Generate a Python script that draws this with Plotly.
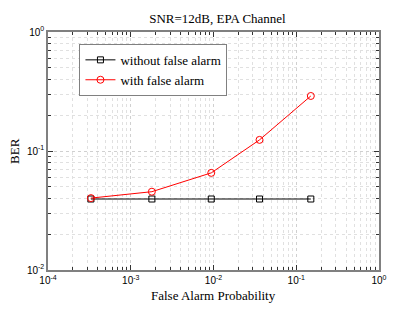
import plotly.graph_objects as go

pfa = [3.3e-4, 1.8e-3, 9.4e-3, 0.036, 0.15]
ber_without = [0.0395, 0.0395, 0.0395, 0.0395, 0.0395]
ber_with = [0.0402, 0.0455, 0.0655, 0.124, 0.29]

x_major = [1e-4, 1e-3, 1e-2, 1e-1, 1e0]
x_major_text = ["10<sup>-4</sup>", "10<sup>-3</sup>", "10<sup>-2</sup>", "10<sup>-1</sup>", "10<sup>0</sup>"]
y_major = [1e-2, 1e-1, 1e0]
y_major_text = ["10<sup>-2</sup>", "10<sup>-1</sup>", "10<sup>0</sup>"]

x_minor = [m * 10.0 ** e for e in range(-4, 0) for m in range(2, 10)]
y_minor = [m * 10.0 ** e for e in range(-2, 0) for m in range(2, 10)]

SERIF = "Liberation Serif"

fig = go.Figure()
fig.add_trace(go.Scatter(
    x=pfa, y=ber_without, mode="lines+markers", name="without false alarm",
    line=dict(color="black", width=1),
    marker=dict(symbol="square-open", size=6, color="black", line=dict(width=1)),
))
fig.add_trace(go.Scatter(
    x=pfa, y=ber_with, mode="lines+markers", name="with false alarm",
    line=dict(color="red", width=1),
    marker=dict(symbol="circle-open", size=7, color="red", line=dict(width=1)),
))

axis_common = dict(
    showline=True, linecolor="#808080", linewidth=1.5, mirror="ticks",
    ticks="inside", ticklen=5, tickcolor="#333333", tickwidth=1,
    showgrid=True, gridcolor="#d0d0d0", griddash="dot", gridwidth=1,
    zeroline=False, tickfont=dict(family="Liberation Sans", size=10, color="black"),
)

fig.update_xaxes(
    type="log", range=[-4, 0], tickmode="array", tickvals=x_major, ticktext=x_major_text,
    minor=dict(tickmode="array", tickvals=x_minor, ticks="inside", ticklen=3, tickcolor="#333333",
               showgrid=True, gridcolor="#e0e0e0", griddash="dot", gridwidth=1),
    **axis_common,
)
fig.update_yaxes(
    type="log", range=[-2, 0], tickmode="array", tickvals=y_major, ticktext=y_major_text,
    minor=dict(tickmode="array", tickvals=y_minor, ticks="inside", ticklen=3, tickcolor="#333333",
               showgrid=True, gridcolor="#e0e0e0", griddash="dot", gridwidth=1),
    **axis_common,
)

fig.add_annotation(text="False Alarm Probability", xref="paper", yref="paper",
                   x=0.5, y=-0.109, xanchor="center", yanchor="middle", showarrow=False,
                   font=dict(family=SERIF, size=13, color="black"))
fig.add_annotation(text="BER", xref="paper", yref="paper",
                   x=-0.103, y=0.5, xanchor="center", yanchor="middle", showarrow=False,
                   textangle=-90, font=dict(family=SERIF, size=13, color="black"))

fig.update_layout(
    width=399, height=310,
    margin=dict(l=40, r=28, t=24, b=48),
    paper_bgcolor="white", plot_bgcolor="white",
    title=dict(text="SNR=12dB, EPA Channel", x=0.525, xanchor="center", y=0.965, yanchor="middle",
               font=dict(family=SERIF, size=13, color="black")),
    legend=dict(x=0.095, y=0.95, xanchor="left", yanchor="top",
                bgcolor="white", bordercolor="#808080", borderwidth=1,
                font=dict(family=SERIF, size=13, color="black"),
                tracegroupgap=0, itemwidth=30),
    showlegend=True,
)

fig.write_html("out.html")
